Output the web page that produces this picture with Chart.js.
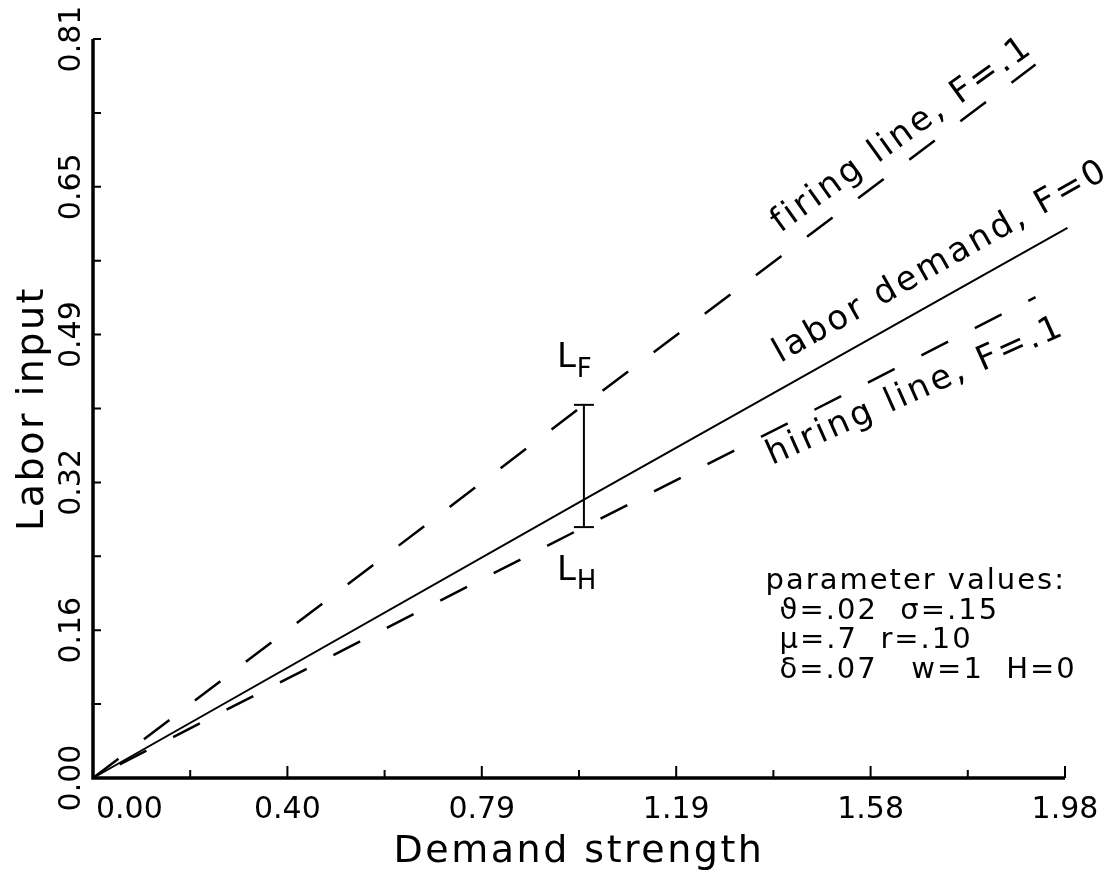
<!DOCTYPE html>
<html>
<head>
<meta charset="utf-8">
<script src="https://cdn.jsdelivr.net/npm/chart.js@4.4.0/dist/chart.umd.min.js"></script>
<style>
  body { margin: 0; background: #fff; }
  canvas { display: block; }
</style>
</head>
<body>
<canvas id="chart" width="1111" height="878"></canvas>
<script>
// values
var demandX = [0, 1.0, 1.985];
var demandY = [0, 0.305, 0.603];
var firingX = [0, 1.0, 1.92];
var firingY = [0, 0.409, 0.782];
var hiringX = [0, 1.0, 1.92];
var hiringY = [0, 0.275, 0.527];
var gapX = [1.0, 1.0];
var gapY = [0.275, 0.409];

var xTicks = [0, 0.396, 0.792, 1.188, 1.584, 1.98];
var xTickLabels = ["0.00", "0.40", "0.79", "1.19", "1.58", "1.98"];
var yTicks = [0, 0.162, 0.324, 0.486, 0.648, 0.81];
var yTickLabels = ["0.00", "0.16", "0.32", "0.49", "0.65", "0.81"];

var lineLabelTexts = ["firing line, F=.1", "labor demand, F=0", "hiring line, F=.1"];
var lineLabelX = [1.40, 1.40, 1.383];
var lineLabelY = [0.597, 0.455, 0.343];
var lineLabelTilt = [-1.5, 0, -3]; // degrees off the line's own slope

var paramLines = ["parameter values:", "ϑ=.02  σ=.15", "μ=.7  r=.10", "δ=.07   w=1  H=0"];

function toPoints(xs, ys) {
  return xs.map(function (x, i) { return { x: x, y: ys[i] }; });
}

function rotatedText(ctx, text, x, y, angle, align) {
  ctx.save();
  ctx.translate(x, y);
  ctx.rotate(angle);
  ctx.textAlign = align;
  ctx.fillText(text, 0, 0);
  ctx.restore();
}

var drawAxes = {
  id: "drawAxes",
  afterDraw: function (chart) {
    var ctx = chart.ctx;
    var sx = chart.scales.x, sy = chart.scales.y;
    var area = chart.chartArea;
    var left = area.left, right = area.right, top = area.top, bottom = area.bottom;

    ctx.save();
    ctx.strokeStyle = "#000";
    ctx.fillStyle = "#000";
    ctx.lineCap = "butt";

    // axis lines
    ctx.lineWidth = 3.5;
    ctx.beginPath();
    ctx.moveTo(left, top);
    ctx.lineTo(left, bottom);
    ctx.lineTo(right, bottom);
    ctx.stroke();

    // inward ticks, minor ones halfway between labelled ones
    ctx.lineWidth = 2;
    ctx.beginPath();
    for (var i = 0; i < xTicks.length; i++) {
      var px = sx.getPixelForValue(xTicks[i]);
      ctx.moveTo(px, bottom);
      ctx.lineTo(px, bottom - 12);
      if (i < xTicks.length - 1) {
        var mx = sx.getPixelForValue((xTicks[i] + xTicks[i + 1]) / 2);
        ctx.moveTo(mx, bottom);
        ctx.lineTo(mx, bottom - 8);
      }
    }
    for (var j = 0; j < yTicks.length; j++) {
      var py = sy.getPixelForValue(yTicks[j]);
      ctx.moveTo(left, py);
      ctx.lineTo(left + 8, py);
      if (j < yTicks.length - 1) {
        var my = sy.getPixelForValue((yTicks[j] + yTicks[j + 1]) / 2);
        ctx.moveTo(left, my);
        ctx.lineTo(left + 8, my);
      }
    }
    ctx.stroke();

    // tick labels
    ctx.font = "30px 'DejaVu Sans'";
    ctx.textBaseline = "alphabetic";
    for (var k = 0; k < xTicks.length; k++) {
      var lx = sx.getPixelForValue(xTicks[k]);
      if (k === 0) {
        ctx.textAlign = "left";
        ctx.fillText(xTickLabels[k], lx + 3, bottom + 40);
      } else {
        ctx.textAlign = "center";
        ctx.fillText(xTickLabels[k], lx, bottom + 40);
      }
    }
    for (var m = 0; m < yTicks.length; m++) {
      rotatedText(ctx, yTickLabels[m], left - 13, sy.getPixelForValue(yTicks[m]), -Math.PI / 2, "center");
    }

    // axis titles
    ctx.font = "38px 'DejaVu Sans'";
    ctx.letterSpacing = "2.5px";
    ctx.textAlign = "center";
    ctx.fillText("Demand strength", (left + right) / 2, bottom + 84);
    rotatedText(ctx, "Labor input", 43, (top + bottom) / 2, -Math.PI / 2, "center");

    // labels along the three lines
    var lineXs = [firingX, demandX, hiringX];
    var lineYs = [firingY, demandY, hiringY];
    ctx.font = "34px 'DejaVu Sans'";
    ctx.letterSpacing = "3px";
    for (var n = 0; n < lineLabelTexts.length; n++) {
      var xs = lineXs[n], ys = lineYs[n];
      var last = xs.length - 1;
      var ang = Math.atan2(sy.getPixelForValue(ys[last]) - sy.getPixelForValue(ys[0]),
        sx.getPixelForValue(xs[last]) - sx.getPixelForValue(xs[0]));
      ang -= lineLabelTilt[n] * Math.PI / 180;
      rotatedText(ctx, lineLabelTexts[n], sx.getPixelForValue(lineLabelX[n]),
        sy.getPixelForValue(lineLabelY[n]), ang, "left");
    }

    // L_F and L_H at the gap bar
    ctx.letterSpacing = "0px";
    ctx.textAlign = "left";
    var barPx = sx.getPixelForValue(gapX[0]);
    var lowPx = sy.getPixelForValue(gapY[0]);
    var highPx = sy.getPixelForValue(gapY[1]);
    ctx.font = "34px 'DejaVu Sans'";
    var lw = ctx.measureText("L").width;
    ctx.fillText("L", barPx - 27, highPx - 38);
    ctx.fillText("L", barPx - 27, lowPx + 53);
    ctx.font = "26px 'DejaVu Sans'";
    ctx.fillText("F", barPx - 27 + lw + 1, highPx - 28);
    ctx.fillText("H", barPx - 27 + lw + 1, lowPx + 62);

    // parameter block
    ctx.font = "29px 'DejaVu Sans'";
    ctx.letterSpacing = "2px";
    var bx = sx.getPixelForValue(1.37);
    var by = sy.getPixelForValue(0.207);
    for (var p = 0; p < paramLines.length; p++) {
      ctx.fillText(paramLines[p], p === 0 ? bx : bx + 14, by + p * 29.5);
    }

    ctx.restore();
  }
};

var lineStyle = {
  borderColor: "#000",
  pointRadius: 0,
  fill: false,
  tension: 0,
  clip: 10
};

var ctx = document.getElementById("chart").getContext("2d");
new Chart(ctx, {
  type: "line",
  data: {
    datasets: [
      Object.assign({ label: "firing line", data: toPoints(firingX, firingY), borderWidth: 2.5, borderDash: [32, 32] }, lineStyle),
      Object.assign({ label: "labor demand", data: toPoints(demandX, demandY), borderWidth: 2 }, lineStyle),
      Object.assign({ label: "hiring line", data: toPoints(hiringX, hiringY), borderWidth: 2.5, borderDash: [30, 30], borderDashOffset: 30 }, lineStyle),
      {
        label: "gap",
        data: toPoints(gapX, gapY),
        borderColor: "#000",
        borderWidth: 2,
        pointStyle: "line",
        pointRadius: 10,
        pointBorderWidth: 2,
        pointBorderColor: "#000",
        clip: false
      }
    ]
  },
  options: {
    responsive: false,
    animation: false,
    layout: { padding: { left: 93, right: 46, top: 39, bottom: 100 } },
    plugins: { legend: { display: false }, tooltip: { enabled: false } },
    scales: {
      x: { type: "linear", min: 0, max: 1.98, display: false },
      y: { type: "linear", min: 0, max: 0.81, display: false }
    }
  },
  plugins: [drawAxes]
});
</script>
</body>
</html>
